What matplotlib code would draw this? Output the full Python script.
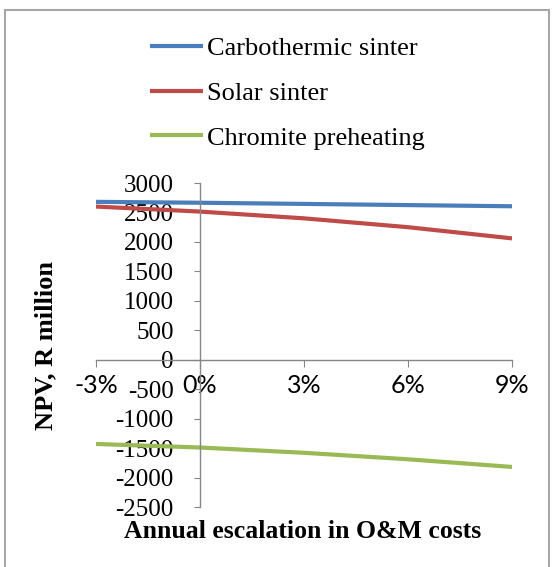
import matplotlib
matplotlib.use('Agg')
import matplotlib.pyplot as plt
import matplotlib.patches as mpatches

# data
escalation = [-3, 0, 3, 6, 9]
tick_labels = ['-3%', '0%', '3%', '6%', '9%']
carbothermic = [2680, 2665, 2645, 2625, 2605]
solar = [2600, 2515, 2400, 2250, 2060]
chromite = [-1430, -1490, -1580, -1690, -1820]
y_ticks = [3000, 2500, 2000, 1500, 1000, 500, 0, -500, -1000, -1500, -2000, -2500]

W, H = 554, 567
fig = plt.figure(figsize=(W / 100, H / 100), dpi=100)

# outer frame (bottom edge is cut off in the reference)
frame = mpatches.Rectangle((5 / W, -0.05), 544 / W, 1.05 - 10 / H, transform=fig.transFigure,
                           fill=False, edgecolor='#a6a6a6', linewidth=1.5, clip_on=False)
fig.patches.append(frame)

ax = fig.add_axes([96 / W, 1 - 507 / H, 416 / W, 324 / H])

l1, = ax.plot(escalation, carbothermic, color='#4a7ebb', lw=3, solid_capstyle='butt')
l2, = ax.plot(escalation, solar, color='#be4b48', lw=3, solid_capstyle='butt')
l3, = ax.plot(escalation, chromite, color='#98b954', lw=3, solid_capstyle='butt')

ax.set_xlim(-3, 9)
ax.set_ylim(-2500, 3000)

# Excel style crossing axes
ax.spines['top'].set_visible(False)
ax.spines['right'].set_visible(False)
ax.spines['left'].set_position(('data', 0))
ax.spines['bottom'].set_position(('data', 0))
for s in ['left', 'bottom']:
    ax.spines[s].set_color('#868686')
    ax.spines[s].set_linewidth(1)

ax.set_yticks(y_ticks)
ax.set_yticklabels([str(v) for v in y_ticks], family='Liberation Serif', fontsize=18)
ax.set_xticks(escalation)
ax.set_xticklabels(tick_labels, family='Lato', fontsize=18)
ax.tick_params(axis='y', direction='out', length=4, color='#868686', pad=15)
ax.tick_params(axis='x', direction='out', length=5, color='#868686', pad=5)
ax.set_facecolor('none')

fig.text(46 / W, 1 - 345 / H, 'NPV, R million', rotation=90, ha='center', va='center',
         family='Liberation Serif', fontweight='bold', fontsize=19)
fig.text(303 / W, 1 - 531 / H, 'Annual escalation in O&M costs', ha='center', va='center',
         family='Liberation Serif', fontweight='bold', fontsize=18.5)

fig.legend([l1, l2, l3], ['Carbothermic sinter', 'Solar sinter', 'Chromite preheating'],
           loc='upper left', bbox_to_anchor=(150 / W, 1 - 37 / H), frameon=False,
           prop={'family': 'Liberation Serif', 'size': 19}, borderpad=0, borderaxespad=0,
           handlelength=2.0, handletextpad=0.15, labelspacing=0.8)

fig.savefig('out.png', dpi=100)
